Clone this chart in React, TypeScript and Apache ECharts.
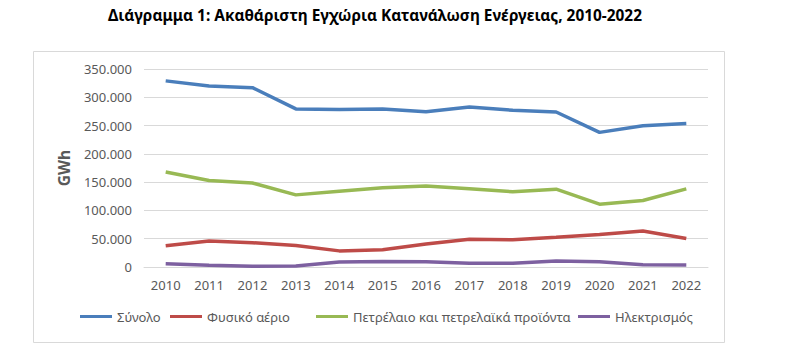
import React, { useEffect, useRef } from "react";
import * as echarts from "echarts";

const years = ["2010","2011","2012","2013","2014","2015","2016","2017","2018","2019","2020","2021","2022"];
const total = [329000, 320000, 317000, 279500, 278500, 279500, 274500, 283000, 277000, 274000, 238000, 249500, 253500];
const naturalGas = [37500, 46000, 43000, 38000, 28500, 30500, 40500, 49000, 48000, 52500, 57500, 63500, 50500];
const oil = [168000, 153000, 148500, 127500, 134000, 140000, 143000, 138500, 133000, 137500, 111000, 117500, 138000];
const electricity = [5800, 3000, 1300, 1800, 8800, 9800, 9300, 6500, 6500, 10800, 9300, 4000, 3500];
const seriesNames = ["Σύνολο", "Φυσικό αέριο", "Πετρέλαιο και πετρελαϊκά προϊόντα", "Ηλεκτρισμός"];
const colors = ["#4a7ebb", "#be4b48", "#98b954", "#7d60a0"];
const titleText = "Διάγραμμα 1: Ακαθάριστη Εγχώρια Κατανάλωση Ενέργειας, 2010-2022";
const legendLefts = [80, 170, 316, 578];

const fmt = (v: number) => {
  if (v === 0) return "0";
  const s = Math.round(v).toString();
  return s.replace(/\B(?=(\d{3})+(?!\d))/g, ".");
};

export default function App() {
  const ref = useRef<HTMLDivElement>(null);
  useEffect(() => {
    if (!ref.current) return;
    const chart = echarts.init(ref.current, undefined, { renderer: "svg" });
    const data = [total, naturalGas, oil, electricity];
    chart.setOption({
      animation: false,
      backgroundColor: "#ffffff",
      textStyle: { fontFamily: "Noto Sans" },
      title: {
        text: titleText,
        left: 108,
        top: 8,
        padding: 0,
        textStyle: { fontFamily: "Noto Sans", fontWeight: "bold", fontSize: 15.4, color: "#000000" },
      },
      graphic: [
        {
          type: "rect",
          shape: { x: 33.5, y: 51.5, width: 691, height: 291 },
          style: { fill: "none", stroke: "#d9d9d9", lineWidth: 1 },
          silent: true,
          z: -1,
        },
      ],
      legend: seriesNames.map((name, i) => ({
        left: legendLefts[i],
        top: 310,
        padding: 0,
        icon: "rect",
        itemWidth: 32,
        itemHeight: 3,
        textStyle: { fontFamily: "Noto Sans", fontSize: 13, color: "#595959" },
        data: [name],
      })),
      grid: { left: 144, right: 90, top: 69, bottom: 96, containLabel: false },
      xAxis: {
        type: "category",
        data: years,
        boundaryGap: true,
        axisLine: { show: true, lineStyle: { color: "#d9d9d9", width: 1 } },
        axisTick: { show: false },
        axisLabel: { color: "#595959", fontSize: 13, fontFamily: "Noto Sans", margin: 11 },
      },
      yAxis: {
        type: "value",
        min: 0,
        max: 350000,
        interval: 50000,
        name: "GWh",
        nameLocation: "middle",
        nameGap: 72,
        nameTextStyle: { color: "#595959", fontWeight: "bold", fontSize: 15.5, fontFamily: "Noto Sans" },
        axisLine: { show: false },
        axisTick: { show: false },
        splitLine: { lineStyle: { color: "#d9d9d9", width: 1 } },
        axisLabel: { color: "#595959", fontSize: 13, fontFamily: "Noto Sans", margin: 12, formatter: (v: number) => fmt(v) },
      },
      series: seriesNames.map((name, i) => ({
        name,
        type: "line",
        data: data[i],
        showSymbol: false,
        symbol: "none",
        lineStyle: { width: 3.5, color: colors[i] },
        itemStyle: { color: colors[i] },
      })),
    });
    return () => chart.dispose();
  }, []);
  return <div ref={ref} style={{ position: "absolute", left: 0, top: 0, width: 798, height: 363 }} />;
}
